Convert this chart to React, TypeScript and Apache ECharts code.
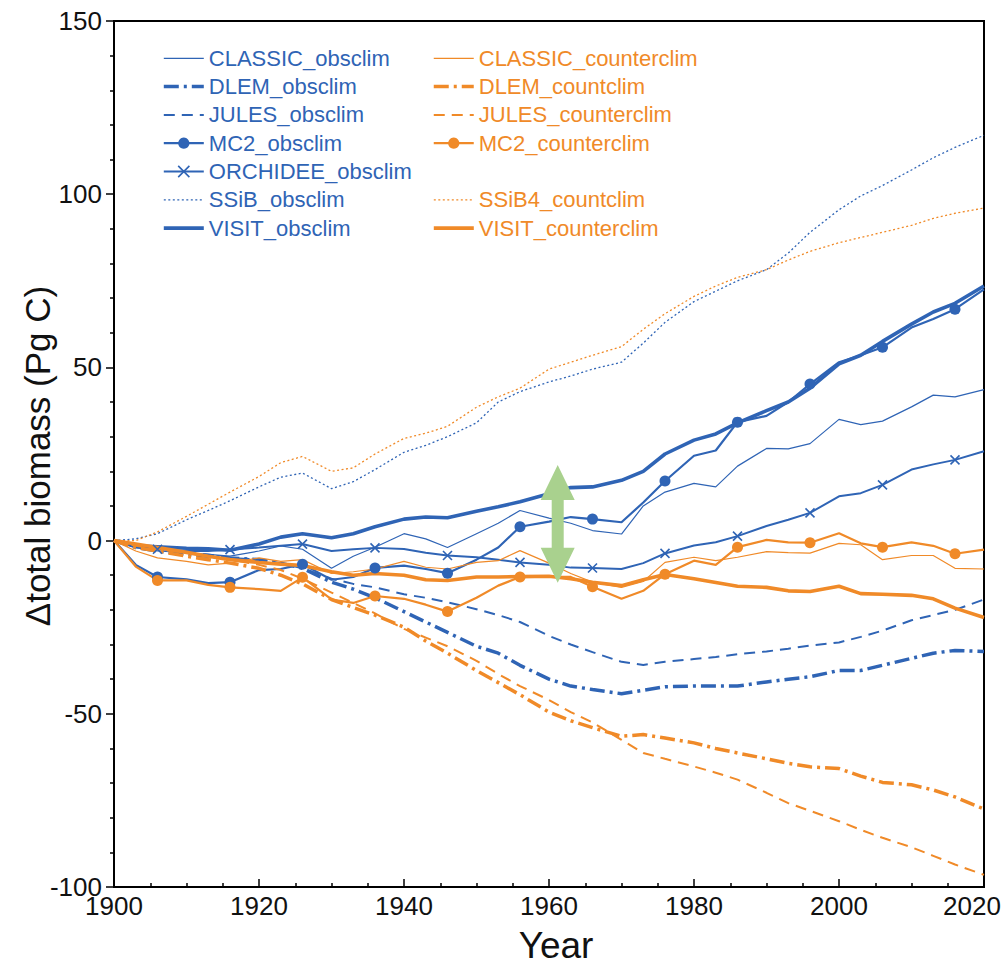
import React, { useEffect, useRef } from "react";
import * as echarts from "echarts";

// ---- Data (Δ total biomass, Pg C) ----
const years = [1900, 1903, 1906, 1910, 1913, 1916, 1920, 1923, 1926, 1930, 1933, 1936, 1940, 1943, 1946, 1950, 1953, 1956, 1960, 1963, 1966, 1970, 1973, 1976, 1980, 1983, 1986, 1990, 1993, 1996, 2000, 2003, 2006, 2010, 2013, 2016, 2020];

const classicObs = [0, -2, -3, -3.5, -4, -4.5, -3, -1.5, -2.5, -8, -4.5, -1.9, 2, 0.5, -2, 2, 5, 8.7, 6.5, 5, 2.9, 1.9, 10, 14, 16.5, 15.5, 21.5, 26.6, 26.5, 28, 35, 33.5, 34.5, 38.6, 42, 41.5, 43.6];
const dlemObs = [0, -2, -3, -4, -4.5, -5, -5.5, -6.5, -8, -12, -14, -16.5, -20.5, -23.5, -26.5, -30.5, -32.5, -36, -40, -42, -43, -44.2, -43.2, -42.2, -42, -42, -42, -40.8, -40, -39.3, -37.5, -37.5, -36, -34, -32.5, -31.7, -32];
const julesObs = [0, -1.5, -2.5, -3.5, -4, -5, -5.5, -6.5, -8, -11, -12.5, -13.5, -15.5, -16.5, -17.8, -19.8, -21.5, -23.5, -27.5, -30, -32.2, -35, -35.9, -35, -34.2, -33.6, -32.8, -32, -31.2, -30.3, -29.4, -27.8, -26, -23, -21.5, -20, -17];
const mc2Obs = [0, -7, -10.5, -11.2, -12.3, -12, -8.5, -8.2, -6.8, -11.3, -10.5, -7.9, -7.2, -8.2, -9.4, -5.5, -2, 4, 5.5, 6.8, 6.2, 5.3, 11, 17.2, 24.5, 26, 34.2, 36, 40, 45.2, 51.5, 53.5, 55.8, 61.5, 64, 66.8, 72.5];
const orchideeObs = [0, -2, -2.5, -3, -3, -2.6, -2, -1.5, -1, -3, -2.5, -2.1, -2.4, -3.5, -4.3, -4.8, -5.5, -6.3, -7, -7.8, -7.9, -8.2, -6.5, -3.7, -1.4, -0.5, 1.3, 4.2, 6, 8, 12.8, 13.7, 16.1, 20.5, 22, 23.3, 25.8];
const ssibObs = [0, 0.5, 2, 6, 8.7, 11.5, 15.5, 18.3, 19.5, 15, 17, 20.5, 25.5, 27.5, 30, 34, 40, 43, 45.8, 47.5, 49.5, 51.5, 57, 63, 69, 72, 75, 78.2, 83, 89, 95.5, 99.5, 102.5, 107, 110.5, 113.5, 117];
const visitObs = [0, -1.5, -1.8, -2.2, -2.4, -2.8, -1, 1, 2, 0.8, 2, 4, 6.2, 6.8, 6.6, 8.5, 9.8, 11.2, 13.5, 15.3, 15.5, 17.4, 20, 25, 29, 30.8, 34, 37.5, 40, 44, 51, 53.5, 57.5, 62.5, 66, 68.5, 73.5];

const classicCounter = [0, -3, -5, -6, -7, -6.5, -5, -6, -5.5, -9.5, -9, -8.2, -6, -7.7, -8.2, -6.3, -5.8, -2.9, -6.5, -9.5, -12, -13.5, -11.8, -6.3, -4.8, -5.8, -4.8, -3.2, -3.5, -3.6, -0.8, -1.2, -5.5, -4.3, -4.3, -8, -8.2];
const dlemCounter = [0, -2, -3, -4.5, -5.5, -6.5, -8, -10, -12.5, -17, -19.3, -21.5, -25, -29, -32.5, -37.5, -41, -44.5, -49.5, -52, -54, -56.5, -56, -57, -58.4, -60, -61.3, -63, -64.3, -65.3, -65.8, -68, -69.8, -70.5, -72, -74, -77.5];
const julesCounter = [0, -1.5, -2.5, -3.5, -4.5, -5.5, -7, -8.5, -11, -15, -18, -21, -25.5, -28, -30.5, -34.7, -38.5, -42, -46, -49.5, -52.5, -57.5, -61.3, -63, -65.2, -67, -69, -72.8, -75.8, -78, -81, -83.5, -85.8, -88.5, -91, -93.5, -96.5];
const mc2Counter = [0, -7.5, -11.5, -11.5, -12.8, -13.5, -14, -14.5, -10.6, -17, -18, -16, -16.8, -18.5, -20.5, -16.5, -13, -10.5, -10.5, -10.5, -13.3, -16.8, -14.5, -9.7, -5.8, -7, -1.9, 0.2, -0.5, -0.6, 2.1, -0.8, -1.9, -0.5, -1.5, -3.8, -2.6];
const ssib4Counter = [0, 0, 2.5, 7, 10.5, 14, 18.5, 22.5, 24.3, 20, 21, 25, 29.5, 31, 33, 38.5, 41.5, 44, 49.5, 51.5, 53.5, 56, 61, 65.5, 70.5, 73.5, 76, 78.2, 81, 83.5, 86, 87.5, 89, 91, 93, 94.5, 96];
const visitCounter = [0, -1, -2, -3.4, -4.5, -5.5, -6.3, -6.8, -7.2, -9, -10, -9.5, -10, -11.3, -11.5, -10.5, -10.5, -10.4, -10.3, -11, -12, -13, -11.3, -9.8, -11, -12.1, -13.2, -13.5, -14.5, -14.7, -13.2, -15.3, -15.5, -15.8, -16.8, -19.5, -22.2];

const markerYears = [1906, 1916, 1926, 1936, 1946, 1956, 1966, 1976, 1986, 1996, 2006, 2016];

// Double arrow annotation (year, top value, bottom value)
const arrowYear = 1961.2;
const arrowTop = 21.8;
const arrowBottom = -12.2;

const xTicks = { min: 1900, max: 2020, step: 20 };
const yTicks = { min: -100, max: 150, step: 50 };

// ---- Styles ----
const BLUE = "#2F64B5";
const ORANGE = "#F08A28";
const GREEN = "#A9D18E";
const FONT = '"Liberation Sans", Arial, Helvetica, sans-serif';
const CROSS = "path://M0,0L10,10M10,0L0,10";

type Spec = {
  name: string;
  values: number[];
  color: string;
  width: number;
  dash: any;
  marker?: "circle" | "cross";
};

const specs: Spec[] = [
  { name: "CLASSIC_obsclim", values: classicObs, color: BLUE, width: 1.2, dash: "solid" },
  { name: "DLEM_obsclim", values: dlemObs, color: BLUE, width: 3.5, dash: [15, 5, 3, 5] },
  { name: "JULES_obsclim", values: julesObs, color: BLUE, width: 2, dash: [11, 7] },
  { name: "MC2_obsclim", values: mc2Obs, color: BLUE, width: 2.2, dash: "solid", marker: "circle" },
  { name: "ORCHIDEE_obsclim", values: orchideeObs, color: BLUE, width: 2, dash: "solid", marker: "cross" },
  { name: "SSiB_obsclim", values: ssibObs, color: BLUE, width: 1.3, dash: [2, 2.5] },
  { name: "VISIT_obsclim", values: visitObs, color: BLUE, width: 3.6, dash: "solid" },
  { name: "CLASSIC_counterclim", values: classicCounter, color: ORANGE, width: 1.2, dash: "solid" },
  { name: "DLEM_countclim", values: dlemCounter, color: ORANGE, width: 3.5, dash: [15, 5, 3, 5] },
  { name: "JULES_counterclim", values: julesCounter, color: ORANGE, width: 2, dash: [11, 7] },
  { name: "MC2_counterclim", values: mc2Counter, color: ORANGE, width: 2.2, dash: "solid", marker: "circle" },
  { name: "SSiB4_countclim", values: ssib4Counter, color: ORANGE, width: 1.3, dash: [2, 2.5] },
  { name: "VISIT_counterclim", values: visitCounter, color: ORANGE, width: 3.6, dash: "solid" },
];

function buildSeries(s: Spec) {
  const data = years.map((yr, i) => {
    if (s.marker && markerYears.includes(yr)) return [yr, s.values[i]];
    return { value: [yr, s.values[i]], symbol: "none" };
  });
  const itemStyle =
    s.marker === "cross"
      ? { color: "rgba(0,0,0,0)", borderColor: s.color, borderWidth: 1.6 }
      : { color: s.color };
  return {
    type: "line",
    name: s.name,
    data,
    symbol: s.marker === "circle" ? "circle" : s.marker === "cross" ? CROSS : "none",
    symbolSize: s.marker === "circle" ? 11 : 9,
    showSymbol: true,
    silent: true,
    lineStyle: { color: s.color, width: s.width, type: s.dash },
    itemStyle,
    emphasis: { disabled: true },
  };
}

function legendItem(s: Spec) {
  let itemStyle: any = { opacity: 0 };
  if (s.marker === "circle") itemStyle = { color: s.color, opacity: 1, borderWidth: 0 };
  if (s.marker === "cross") itemStyle = { color: "rgba(0,0,0,0)", borderColor: s.color, borderWidth: 1.6, opacity: 1 };
  return { name: s.name, itemStyle, lineStyle: { width: s.width, color: s.color, type: s.dash } };
}

function legend(names: string[], left: number, top: number, color: string) {
  return {
    orient: "vertical",
    left,
    top,
    padding: 0,
    itemWidth: 40,
    itemHeight: 14,
    itemGap: 6.3,
    selectedMode: false,
    textStyle: { color, fontSize: 22, fontFamily: FONT },
    data: specs.filter((s) => names.includes(s.name)).map(legendItem),
  };
}

export default function App() {
  const ref = useRef<HTMLDivElement>(null);
  useEffect(() => {
    const chart = echarts.init(ref.current!, null, { renderer: "svg" });
    const blueNames = specs.filter((s) => s.color === BLUE).map((s) => s.name);
    const orangeNames = specs.filter((s) => s.color === ORANGE).map((s) => s.name);
    const option: any = {
      animation: false,
      backgroundColor: "#fff",
      grid: {
        left: 114, width: 870, top: 21, bottom: 78,
        outerBoundsMode: "none", containLabel: false,
        show: true, borderColor: "#000", borderWidth: 2, backgroundColor: "transparent",
      },
      legend: [
        legend(blueNames, 162, 47.3, BLUE),
        legend(orangeNames.slice(0, 4), 432, 47.3, ORANGE),
        legend(orangeNames.slice(4), 432, 47.3 + 5 * 28.3, ORANGE),
      ],
      xAxis: {
        type: "value",
        min: xTicks.min,
        max: xTicks.max,
        interval: xTicks.step,
        axisLine: { show: true, onZero: false, lineStyle: { color: "#000", width: 2 } },
        axisTick: { show: true, inside: true, length: 8, lineStyle: { color: "#000", width: 1.5 } },
        minorTick: { show: true, splitNumber: 4, length: 4, lineStyle: { color: "#000", width: 1.5 } },
        splitLine: { show: false },
        axisLabel: {
          fontSize: 26, color: "#111", fontFamily: FONT, margin: 6, hideOverlap: false,
          formatter: (v: number) => (v === xTicks.max ? `{last|${v}}` : String(v)),
          rich: { last: { fontSize: 26, color: "#111", fontFamily: FONT, padding: [0, 24, 0, 0] } },
        },
      },
      yAxis: {
        type: "value",
        min: yTicks.min,
        max: yTicks.max,
        interval: yTicks.step,
        axisLine: { show: true, onZero: false, lineStyle: { color: "#000", width: 2 } },
        axisTick: { show: true, inside: false, length: 8, lineStyle: { color: "#000", width: 1.5 } },
        minorTick: { show: true, splitNumber: 5, length: 4, lineStyle: { color: "#000", width: 1.5 } },
        splitLine: { show: false },
        axisLabel: { fontSize: 26, color: "#111", fontFamily: FONT, margin: 12, hideOverlap: false, formatter: (v: number) => String(v) },
      },
      series: specs.map(buildSeries),
    };
    chart.setOption(option);

    const pTop = chart.convertToPixel({ xAxisIndex: 0, yAxisIndex: 0 }, [arrowYear, arrowTop]) as number[];
    const pBot = chart.convertToPixel({ xAxisIndex: 0, yAxisIndex: 0 }, [arrowYear, arrowBottom]) as number[];
    const cx = pTop[0];
    const yT = pTop[1];
    const yB = pBot[1];
    const H = 35, HW = 17, SW = 6;
    const points = [
      [cx, yT], [cx + HW, yT + H], [cx + SW, yT + H], [cx + SW, yB - H], [cx + HW, yB - H],
      [cx, yB], [cx - HW, yB - H], [cx - SW, yB - H], [cx - SW, yT + H], [cx - HW, yT + H],
    ];
    chart.setOption({
      graphic: [
        { type: "polygon", shape: { points }, style: { fill: GREEN }, z: 100, silent: true },
        {
          type: "text", x: 37, y: 456, rotation: Math.PI / 2, silent: true,
          style: { text: "Δtotal biomass (Pg C)", fontSize: 35, fontFamily: FONT, fill: "#111", align: "center", verticalAlign: "middle" },
        },
        {
          type: "text", x: 556, y: 945, silent: true,
          style: { text: "Year", fontSize: 37, fontFamily: FONT, fill: "#111", align: "center", verticalAlign: "middle" },
        },
      ],
    });
    return () => chart.dispose();
  }, []);
  return <div ref={ref} style={{ position: "fixed", left: 0, top: 0, width: 1004, height: 965 }} />;
}
